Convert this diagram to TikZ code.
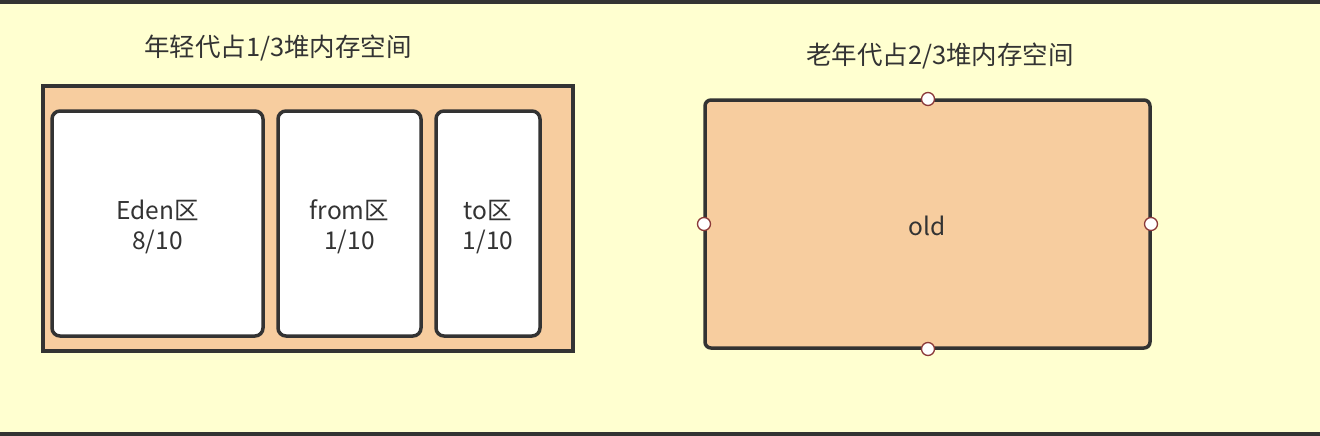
\documentclass[tikz,border=0pt]{standalone}
\usepackage{fontspec}
\setmainfont{Noto Sans CJK SC}
\definecolor{bgyellow}{HTML}{FFFFD0}
\definecolor{orangefill}{HTML}{F7CD9F}
\definecolor{darkline}{HTML}{333333}
\definecolor{portred}{HTML}{8B3A3A}
\begin{document}
\begin{tikzpicture}[x=1pt,y=-1pt,
  frame/.style={draw=darkline,line width=3.5pt,fill=orangefill},
  region/.style={draw=darkline,line width=3.5pt,fill=white,rounded corners=8pt},
  oldbox/.style={draw=darkline,line width=3.5pt,fill=orangefill,rounded corners=6pt},
  port/.style={circle,draw=portred,line width=1.3pt,fill=white,minimum size=13pt,inner sep=0pt},
  lbl/.style={font=\fontsize{24.5}{30}\selectfont,text=darkline,align=center},
  title/.style={font=\fontsize{25.5}{30}\selectfont,text=darkline}]
\useasboundingbox (0,0) rectangle (1320,436);
\fill[bgyellow] (0,0) rectangle (1320,436);
\draw[darkline,line width=4pt] (0,2) -- (1320,2);
\draw[darkline,line width=4pt] (0,434) -- (1320,434);
% young generation
\node[title] (tyoung) at (278,48) {年轻代占1/3堆内存空间};
\draw[frame] (43,86) rectangle (573,351);
\draw[region] (52,111) rectangle (263,336);
\draw[region] (278,111) rectangle (421,336);
\draw[region] (436,111) rectangle (540,336);
\node[lbl] (eden) at (157.5,227) {Eden区\\8/10};
\node[lbl] (from) at (349.5,227) {from区\\1/10};
\node[lbl] (to) at (488,227) {to区\\1/10};
% old generation
\node[title] (told) at (940,56) {老年代占2/3堆内存空间};
\draw[oldbox] (705,100) rectangle (1150,348);
\node[lbl] (old) at (927,226) {old};
\node[port] (pt) at (928,99) {};
\node[port] (pb) at (928,349) {};
\node[port] (pl) at (704,224) {};
\node[port] (pr) at (1151,224) {};
\end{tikzpicture}
\end{document}
